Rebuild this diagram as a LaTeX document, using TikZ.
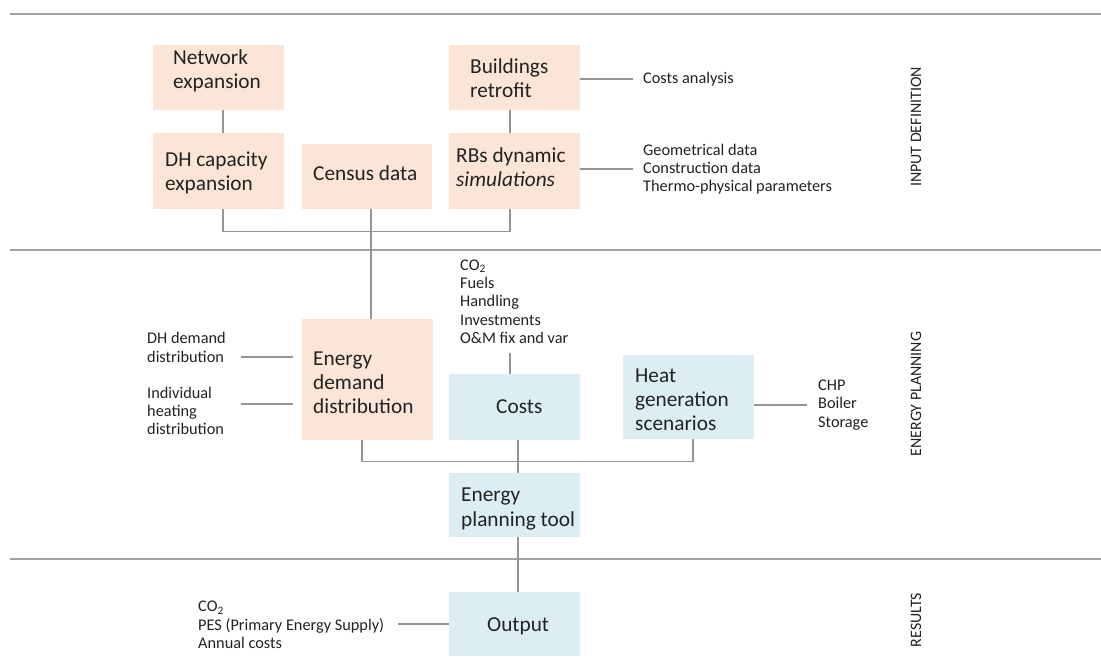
\documentclass[tikz,border=0pt]{standalone}
\usepackage{fontspec}
\setmainfont{Carlito}
\usetikzlibrary{calc}
\definecolor{peach}{HTML}{FBE5D6}
\definecolor{lblue}{HTML}{DCEEF4}
\definecolor{secline}{HTML}{A3A3A3}
\definecolor{conn}{HTML}{959595}
\definecolor{txt}{HTML}{222222}
\tikzset{
  pbox/.style={fill=peach, draw=none, inner sep=0pt, anchor=north west},
  bbox/.style={fill=lblue, draw=none, inner sep=0pt, anchor=north west},
  btxt/.style={anchor=west, align=left, inner sep=0pt, text=txt, font=\fontsize{21.3}{24.2}\selectfont},
  stxt/.style={anchor=west, align=left, inner sep=0pt, text=txt, font=\fontsize{16.3}{18.3}\selectfont},
  sectxt/.style={rotate=90, inner sep=0pt, text=txt, font=\fontsize{15.9}{18}\selectfont},
  secln/.style={draw=secline, line width=1.6pt},
  cn/.style={draw=conn, line width=1.5pt}
}
\begin{document}
\begin{tikzpicture}[x=1pt, y=-1pt]
\useasboundingbox[fill=white] (0,0) rectangle (1101,666);
% section lines
\draw[secln] (10,14) -- (1101,14);
\draw[secln] (10,250) -- (1101,250);
\draw[secln] (10,559) -- (1101,559);
% section labels
\node[sectxt] (s1) at (916,127) {INPUT DEFINITION};
\node[sectxt] (s2) at (916,394) {ENERGY PLANNING};
\node[sectxt] (s3) at (916,620) {RESULTS};
% boxes: input definition
\node[pbox, minimum width=131pt, minimum height=65pt] (net) at (153,45) {};
\node[pbox, minimum width=131pt, minimum height=65pt] (bret) at (449,45) {};
\node[pbox, minimum width=131pt, minimum height=76pt] (dh) at (153,133) {};
\node[pbox, minimum width=130pt, minimum height=65pt] (cen) at (302,144) {};
\node[pbox, minimum width=131pt, minimum height=76pt] (rbs) at (449,133) {};
\node[btxt] (tnet) at (173,70.5) {Network\\expansion};
\node[btxt] (tbret) at (470,78.5) {Buildings\\retrofit};
\node[btxt] (tdh) at (165,173) {DH capacity\\expansion};
\node[btxt] (tcen) at (313,173) {Census data};
\node[btxt] (trbs) at (456,167.5) {RBs dynamic\\\textit{simulations}};
% boxes: energy planning
\node[pbox, minimum width=131pt, minimum height=121pt] (ed) at (302,319) {};
\node[bbox, minimum width=131pt, minimum height=66pt] (cost) at (449,374) {};
\node[bbox, minimum width=131pt, minimum height=84pt] (hg) at (623,355) {};
\node[bbox, minimum width=131pt, minimum height=64pt] (ept) at (449,473) {};
\node[bbox, minimum width=131pt, minimum height=64pt] (out) at (449,592) {};
\node[btxt] (ted) at (313,382.5) {Energy\\demand\\distribution};
\node[btxt] (tcost) at (496,407) {Costs};
\node[btxt] (thg) at (635,399.5) {Heat\\generation\\scenarios};
\node[btxt] (tept) at (461,509) {Energy\\planning tool};
\node[btxt] (tout) at (487,626) {Output};
% side labels
\node[stxt] (lca) at (643,79) {Costs analysis};
\node[stxt] (lrbs) at (643,169) {Geometrical data\\Construction data\\Thermo-physical parameters};
\node[stxt] (lcost) at (460,301.5) {CO\textsubscript{2}\\Fuels\\Handling\\Investments\\O\&M fix and var};
\node[stxt] (ldh) at (147,347.5) {DH demand\\distribution};
\node[stxt] (lind) at (147,411) {Individual\\heating\\distribution};
\node[stxt] (lhg) at (818,405) {CHP\\Boiler\\Storage};
\node[stxt] (lout) at (198,625) {CO\textsubscript{2}\\PES (Primary Energy Supply)\\Annual costs};
% free ends
\coordinate (ca) at (633,79);
\coordinate (rb) at (633,169);
\coordinate (ct) at (510,353);
\coordinate (d1a) at (241,357);
\coordinate (d1b) at (293,357);
\coordinate (d2a) at (241,404);
\coordinate (d2b) at (293,404);
\coordinate (hgr) at (807,405);
\coordinate (ol) at (398,624);
% connectors: input definition
\draw[cn] ([xshift=4.5pt]net.south) -- ([xshift=4.5pt]dh.north);
\draw[cn] ([xshift=-4.5pt]bret.south) -- ([xshift=-4.5pt]rbs.north);
\draw[cn] ([xshift=4.5pt]dh.south) -- ++(0,22) -| ([xshift=-4.5pt]rbs.south);
\draw[cn] ([xshift=4pt]cen.south) -- ([xshift=4pt]cen.south |- ed.north);
\draw[cn] (bret.east |- ca) -- (ca);
\draw[cn] (rbs.east |- rb) -- (rb);
% connectors: energy planning
\draw[cn] (ct) -- (ct |- cost.north);
\draw[cn] (d1a) -- (d1b);
\draw[cn] (d2a) -- (d2b);
\draw[cn] (hg.east |- hgr) -- (hgr);
\draw[cn] ([xshift=-5.5pt]ed.south) -- ++(0,21) -| ([xshift=4.5pt]hg.south);
\draw[cn] ([xshift=3.5pt]cost.south) -- ([xshift=3.5pt]ept.north);
\draw[cn] ([xshift=3.5pt]ept.south) -- ([xshift=3.5pt]out.north);
\draw[cn] (ol) -- (ol -| out.west);
\end{tikzpicture}
\end{document}
